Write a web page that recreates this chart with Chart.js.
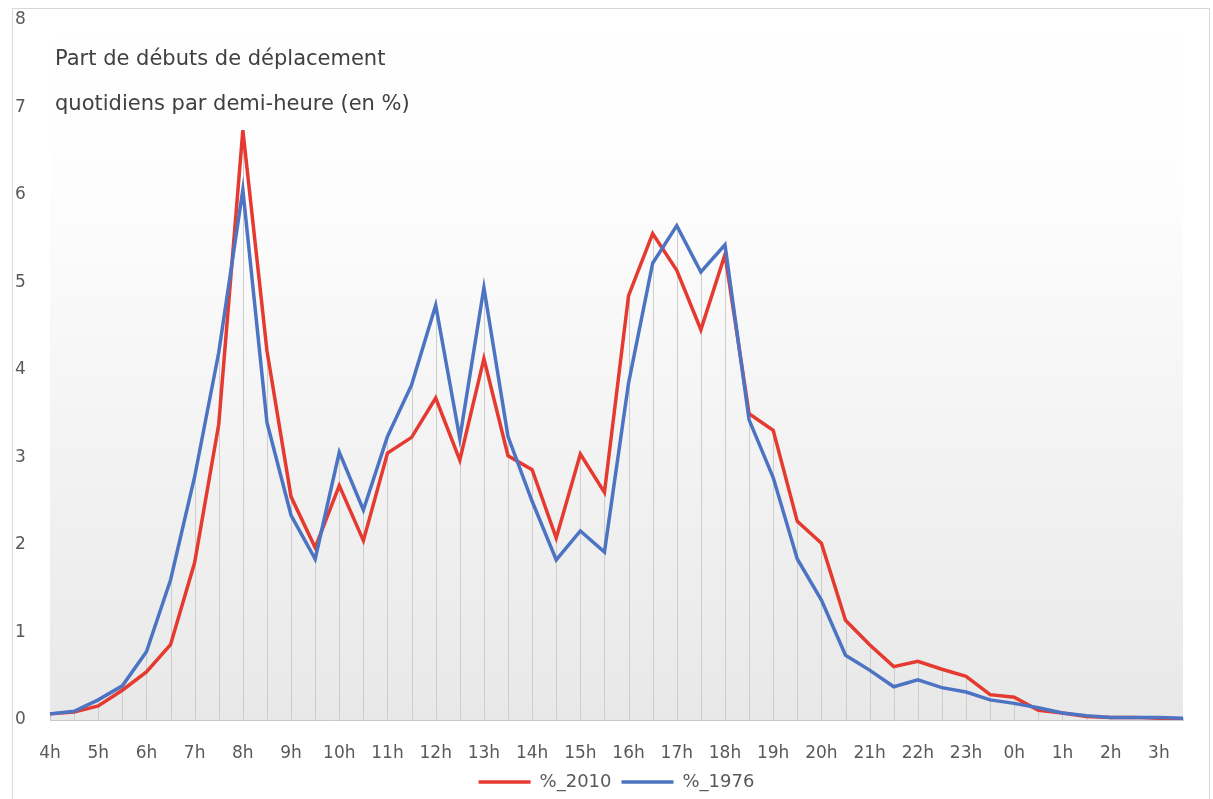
<!DOCTYPE html>
<html lang="fr">
<head>
<meta charset="utf-8">
<title>Part de débuts de déplacement</title>
<script src="https://cdn.jsdelivr.net/npm/chart.js@4.4.1/dist/chart.umd.min.js"></script>
<style>
  html, body { margin: 0; padding: 0; background: #ffffff; }
  .wrap { position: relative; width: 1213px; height: 799px; overflow: hidden; }
  .frame { position: absolute; left: 12px; top: 8px; width: 1196px; height: 900px; border: 1px solid #d9d9d9; }
  canvas { position: absolute; left: 0; top: 0; }
  .note {
    position: absolute; left: 55px; top: 36px;
    font-family: "DejaVu Sans", sans-serif; font-size: 21px; line-height: 45px;
    color: #404040; white-space: nowrap;
  }
</style>
</head>
<body>
<div class="wrap">
  <div class="frame"></div>
  <canvas id="trips" width="1213" height="799"></canvas>
  <div class="note">Part de débuts de déplacement<br>quotidiens par demi-heure (en %)</div>
</div>
<script>
// demi-heures de 4h à 3h30
const halfHours = [
  '4h', '4h30', '5h', '5h30', '6h', '6h30', '7h', '7h30', '8h', '8h30',
  '9h', '9h30', '10h', '10h30', '11h', '11h30', '12h', '12h30', '13h', '13h30',
  '14h', '14h30', '15h', '15h30', '16h', '16h30', '17h', '17h30', '18h', '18h30',
  '19h', '19h30', '20h', '20h30', '21h', '21h30', '22h', '22h30', '23h', '23h30',
  '0h', '0h30', '1h', '1h30', '2h', '2h30', '3h', '3h30'
];

// %_2010
const share2010 = [
  0.07, 0.09, 0.16, 0.34, 0.55, 0.86, 1.80, 3.38, 6.74, 4.22,
  2.55, 1.97, 2.68, 2.05, 3.05, 3.23, 3.68, 2.97, 4.13, 3.02,
  2.86, 2.08, 3.04, 2.60, 4.85, 5.56, 5.14, 4.46, 5.32, 3.50,
  3.31, 2.27, 2.02, 1.14, 0.86, 0.61, 0.67, 0.58, 0.50, 0.29,
  0.26, 0.11, 0.08, 0.04, 0.03, 0.03, 0.02, 0.01
];

// %_1976
const share1976 = [
  0.07, 0.10, 0.23, 0.39, 0.78, 1.60, 2.78, 4.20, 6.06, 3.40,
  2.34, 1.84, 3.06, 2.40, 3.24, 3.83, 4.74, 3.22, 4.94, 3.24,
  2.50, 1.83, 2.16, 1.92, 3.85, 5.22, 5.65, 5.12, 5.43, 3.43,
  2.77, 1.84, 1.37, 0.74, 0.57, 0.38, 0.46, 0.37, 0.32, 0.23,
  0.19, 0.14, 0.08, 0.05, 0.03, 0.03, 0.03, 0.02
];

const yTicks = [0, 1, 2, 3, 4, 5, 6, 7, 8];

const FONT = '"DejaVu Sans", sans-serif';

// fond dégradé de la zone de tracé
const plotBackground = {
  id: 'plotBackground',
  beforeDraw(chart) {
    const { ctx, chartArea: a } = chart;
    const g = ctx.createLinearGradient(0, a.top, 0, a.bottom);
    g.addColorStop(0, '#ffffff');
    g.addColorStop(0.25, '#fdfdfd');
    g.addColorStop(1, '#e8e8e8');
    ctx.save();
    ctx.fillStyle = g;
    ctx.fillRect(a.left, a.top, a.right - a.left, a.bottom - a.top);
    ctx.restore();
  }
};

// lignes de projection : du point le plus haut jusqu'à l'axe
const dropLines = {
  id: 'dropLines',
  beforeDatasetsDraw(chart) {
    const { ctx } = chart;
    const base = chart.scales.y.getPixelForValue(0);
    const metaA = chart.getDatasetMeta(0).data;
    const metaB = chart.getDatasetMeta(1).data;
    ctx.save();
    ctx.strokeStyle = '#cdcdcd';
    ctx.lineWidth = 1;
    metaA.forEach((pt, i) => {
      const top = Math.min(pt.y, metaB[i].y);
      const x = Math.round(pt.x) + 0.5;
      ctx.beginPath();
      ctx.moveTo(x, top);
      ctx.lineTo(x, base);
      ctx.stroke();
    });
    ctx.restore();
  }
};

const ctx = document.getElementById('trips').getContext('2d');

new Chart(ctx, {
  type: 'line',
  data: {
    labels: halfHours,
    datasets: [
      {
        label: '%_2010',
        data: share2010,
        borderColor: '#e43a30',
        backgroundColor: '#e43a30',
        borderWidth: 3.5,
        pointRadius: 0,
        tension: 0,
        order: 1
      },
      {
        label: '%_1976',
        data: share1976,
        borderColor: '#4d74c2',
        backgroundColor: '#4d74c2',
        borderWidth: 3.5,
        pointRadius: 0,
        tension: 0,
        order: 0
      }
    ]
  },
  options: {
    responsive: false,
    animation: false,
    layout: { padding: { left: 15, right: 30, top: 20, bottom: -2 } },
    scales: {
      x: {
        offset: false,
        grid: { display: false },
        border: { display: true, color: '#c8c8c8', width: 1 },
        ticks: {
          autoSkip: false,
          maxRotation: 0,
          padding: 15,
          color: '#595959',
          font: { family: FONT, size: 17 },
          callback: function (value) {
            const lbl = this.getLabelForValue(value);
            return lbl.endsWith('h') ? lbl : '';
          }
        },
        afterFit(scale) { scale.height = 43; }
      },
      y: {
        min: yTicks[0],
        max: yTicks[yTicks.length - 1],
        grid: { display: false },
        border: { display: false },
        afterBuildTicks(scale) { scale.ticks = yTicks.map(v => ({ value: v })); },
        ticks: {
          crossAlign: 'far',
          color: '#595959',
          font: { family: FONT, size: 17 }
        },
        afterFit(scale) { scale.width = 35; }
      }
    },
    plugins: {
      legend: {
        position: 'bottom',
        fullSize: false,
        labels: {
          usePointStyle: true,
          pointStyle: 'line',
          pointStyleWidth: 52,
          boxHeight: 18,
          padding: 10,
          color: '#595959',
          font: { family: FONT, size: 18 },
          sort: (a, b) => a.datasetIndex - b.datasetIndex
        }
      },
      tooltip: { enabled: false }
    }
  },
  plugins: [plotBackground, dropLines]
});
</script>
</body>
</html>
